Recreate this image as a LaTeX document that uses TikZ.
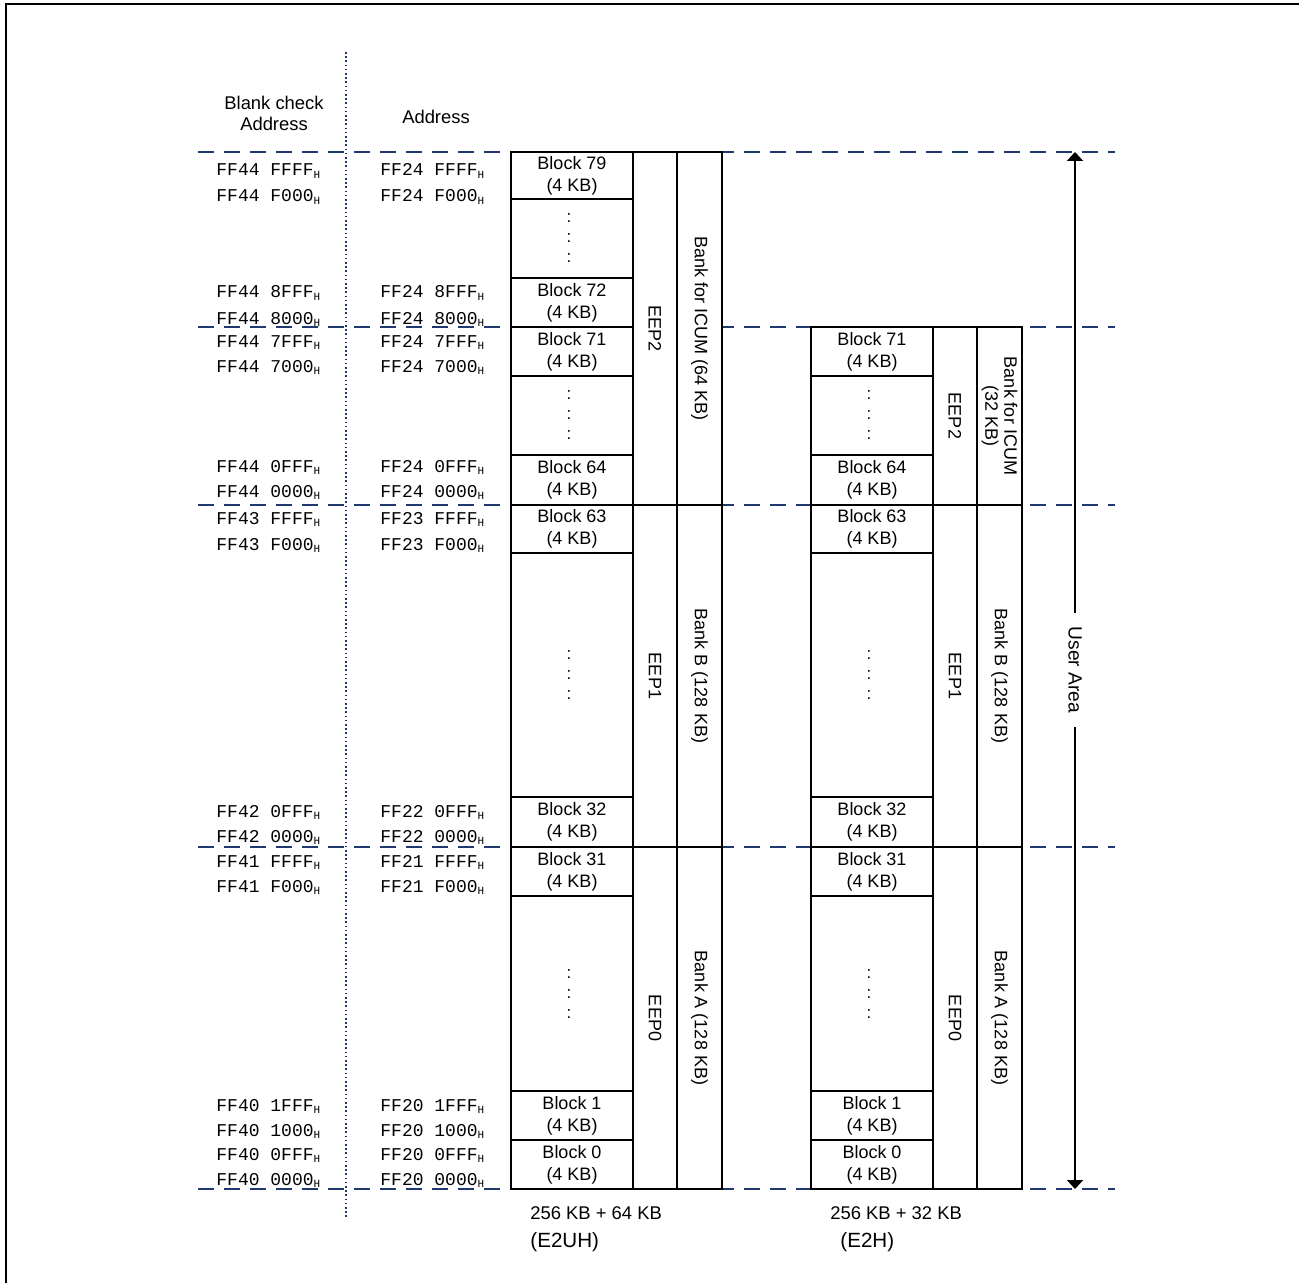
\documentclass[tikz,border=0pt]{standalone}
\usepackage{fontspec}
\setmainfont{Liberation Sans}
\newfontfamily\monof{Liberation Mono}
\usetikzlibrary{fit,arrows.meta}
\definecolor{navy}{RGB}{31,56,110}
\newcommand\hsub{\raisebox{-1.2pt}{\fontsize{5.5}{6}\selectfont H}}
\begin{document}
\begin{tikzpicture}[x=0.5pt,y=-0.5pt,
  cell/.style={draw, line width=1.3pt, fill=white, inner sep=0pt},
  btext/.style={align=center, font=\fontsize{9}{11}\selectfont, inner sep=0pt},
  vtext/.style={rotate=-90, align=center, font=\fontsize{9}{9}\selectfont, inner sep=0pt},
  addr/.style={anchor=base west, font=\monof\fontsize{9}{10}\selectfont, inner sep=0pt},
  dotsym/.style={font=\fontsize{8.5}{10}\selectfont, inner sep=0pt},
  sepline/.style={navy, line width=1pt, dash pattern=on 8pt off 5pt},
  head/.style={align=center, font=\fontsize{9.2}{10.5}\selectfont, inner sep=0pt},
  foot/.style={anchor=west, font=\fontsize{9.2}{10}\selectfont, inner sep=0pt},
  footb/.style={anchor=west, font=\fontsize{10.3}{11}\selectfont, inner sep=0pt}]
\useasboundingbox (0,0) rectangle (1299,1283);
% outer frame
\draw[line width=1.15pt] (6,1283) -- (6,4.3) -- (1299,4.3);

% separator dashed lines
\foreach \yy in {152,327,505,847,1189}{
  \draw[sepline] (198,\yy) -- (1115,\yy);
}
% dotted vertical
\coordinate (dtop) at (346,52);
\coordinate (dbot) at (346,1218);
\draw[navy, line width=0.8pt, dash pattern=on 0.8pt off 1.3pt] (dtop) -- (dbot);

% headers
\node[head] (hblank) at (274,113.5) {Blank check\\Address};
\node[head] (haddr) at (436,117) {Address};

% ---------- left memory (E2UH) ----------
\node[cell, fit={(511,152)(633,199)}] (b79) {};
\node[cell, fit={(511,199)(633,278)}] (bd1) {};
\node[cell, fit={(511,278)(633,327)}] (b72) {};
\node[cell, fit={(511,327)(633,376)}] (b71) {};
\node[cell, fit={(511,376)(633,455)}] (bd2) {};
\node[cell, fit={(511,455)(633,505)}] (b64) {};
\node[cell, fit={(511,505)(633,553)}] (b63) {};
\node[cell, fit={(511,553)(633,797)}] (bd3) {};
\node[cell, fit={(511,797)(633,847)}] (b32) {};
\node[cell, fit={(511,847)(633,896)}] (b31) {};
\node[cell, fit={(511,896)(633,1091)}] (bd4) {};
\node[cell, fit={(511,1091)(633,1140)}] (b1) {};
\node[cell, fit={(511,1140)(633,1189)}] (b0) {};
\node[cell, fit={(633,152)(677,505)}] (e2) {};
\node[cell, fit={(633,505)(677,847)}] (e1) {};
\node[cell, fit={(633,847)(677,1189)}] (e0) {};
\node[cell, fit={(677,152)(722,505)}] (k2) {};
\node[cell, fit={(677,505)(722,847)}] (k1) {};
\node[cell, fit={(677,847)(722,1189)}] (k0) {};

\node[btext] (t79) at (b79) {Block 79\\(4 KB)};
\node[btext] (t72) at (b72) {Block 72\\(4 KB)};
\node[btext] (t71) at (b71) {Block 71\\(4 KB)};
\node[btext] (t64) at (b64) {Block 64\\(4 KB)};
\node[btext] (t63) at (b63) {Block 63\\(4 KB)};
\node[btext] (t32) at (b32) {Block 32\\(4 KB)};
\node[btext] (t31) at (b31) {Block 31\\(4 KB)};
\node[btext] (t1) at (b1) {Block 1\\(4 KB)};
\node[btext] (t0) at (b0) {Block 0\\(4 KB)};
\foreach \c/\n in {238.5/d1,415.5/d2,675/d3,993.5/d4}{
  \node[dotsym] (l\n a) at (569,\c-20) {:};
  \node[dotsym] (l\n b) at (569,\c) {:};
  \node[dotsym] (l\n c) at (569,\c+20) {:};
}
\node[vtext] (te2) at (e2) {EEP2};
\node[vtext] (te1) at (e1) {EEP1};
\node[vtext] (te0) at (e0) {EEP0};
\node[vtext] (tk2) at (k2) {Bank for ICUM (64 KB)};
\node[vtext] (tk1) at (k1) {Bank B (128 KB)};
\node[vtext] (tk0) at (k0) {Bank A (128 KB)};

% ---------- right memory (E2H) ----------
\node[cell, fit={(811,327)(933,376)}] (r71) {};
\node[cell, fit={(811,376)(933,455)}] (rd2) {};
\node[cell, fit={(811,455)(933,505)}] (r64) {};
\node[cell, fit={(811,505)(933,553)}] (r63) {};
\node[cell, fit={(811,553)(933,797)}] (rd3) {};
\node[cell, fit={(811,797)(933,847)}] (r32) {};
\node[cell, fit={(811,847)(933,896)}] (r31) {};
\node[cell, fit={(811,896)(933,1091)}] (rd4) {};
\node[cell, fit={(811,1091)(933,1140)}] (r1) {};
\node[cell, fit={(811,1140)(933,1189)}] (r0) {};
\node[cell, fit={(933,327)(977,505)}] (re2) {};
\node[cell, fit={(933,505)(977,847)}] (re1) {};
\node[cell, fit={(933,847)(977,1189)}] (re0) {};
\node[cell, fit={(977,327)(1022,505)}] (rk2) {};
\node[cell, fit={(977,505)(1022,847)}] (rk1) {};
\node[cell, fit={(977,847)(1022,1189)}] (rk0) {};

\node[btext] (u71) at (r71) {Block 71\\(4 KB)};
\node[btext] (u64) at (r64) {Block 64\\(4 KB)};
\node[btext] (u63) at (r63) {Block 63\\(4 KB)};
\node[btext] (u32) at (r32) {Block 32\\(4 KB)};
\node[btext] (u31) at (r31) {Block 31\\(4 KB)};
\node[btext] (u1) at (r1) {Block 1\\(4 KB)};
\node[btext] (u0) at (r0) {Block 0\\(4 KB)};
\foreach \c/\n in {415.5/d2,675/d3,993.5/d4}{
  \node[dotsym] (r\n a) at (869,\c-20) {:};
  \node[dotsym] (r\n b) at (869,\c) {:};
  \node[dotsym] (r\n c) at (869,\c+20) {:};
}
\node[vtext] (ue2) at (re2) {EEP2};
\node[vtext] (ue1) at (re1) {EEP1};
\node[vtext] (ue0) at (re0) {EEP0};
\node[vtext, font=\fontsize{9}{9.6}\selectfont] (uk2) at (rk2) {Bank for ICUM\\(32 KB)};
\node[vtext] (uk1) at (rk1) {Bank B (128 KB)};
\node[vtext] (uk0) at (rk0) {Bank A (128 KB)};

% ---------- addresses ----------
\foreach \yy/\sa/\sb/\n in {
  170/FF44 FFFF/FF24 FFFF/a1, 196/FF44 F000/FF24 F000/a2,
  292/FF44 8FFF/FF24 8FFF/a3, 318/FF44 8000/FF24 8000/a4,
  341/FF44 7FFF/FF24 7FFF/a5, 366/FF44 7000/FF24 7000/a6,
  466/FF44 0FFF/FF24 0FFF/a7, 491/FF44 0000/FF24 0000/a8,
  518/FF43 FFFF/FF23 FFFF/a9, 544/FF43 F000/FF23 F000/a10,
  811/FF42 0FFF/FF22 0FFF/a11, 836/FF42 0000/FF22 0000/a12,
  861/FF41 FFFF/FF21 FFFF/a13, 886/FF41 F000/FF21 F000/a14,
  1105/FF40 1FFF/FF20 1FFF/a15, 1130/FF40 1000/FF20 1000/a16,
  1154/FF40 0FFF/FF20 0FFF/a17, 1179/FF40 0000/FF20 0000/a18}{
  \node[addr] (bc\n) at (216,\yy+6) {\sa\hsub};
  \node[addr] (ad\n) at (380,\yy+6) {\sb\hsub};
}

% ---------- footers ----------
\node[foot] (f1) at (530,1213) {256 KB + 64 KB};
\node[footb] (f2) at (530,1242) {(E2UH)};
\node[foot] (f3) at (830,1213) {256 KB + 32 KB};
\node[footb] (f4) at (840,1242) {(E2H)};

% ---------- user area arrow ----------
\coordinate (ut) at (1075,152);
\coordinate (ub) at (1075,1189);
\draw[line width=1pt, {Triangle[width=8pt,length=4.5pt]}-{Triangle[width=8pt,length=4.5pt]}] (ut) -- (ub);
\node[rotate=-90, fill=white, inner xsep=7pt, inner ysep=1pt, font=\fontsize{9.6}{10}\selectfont] (ua) at (1075,670) {User Area};
\end{tikzpicture}
\end{document}
